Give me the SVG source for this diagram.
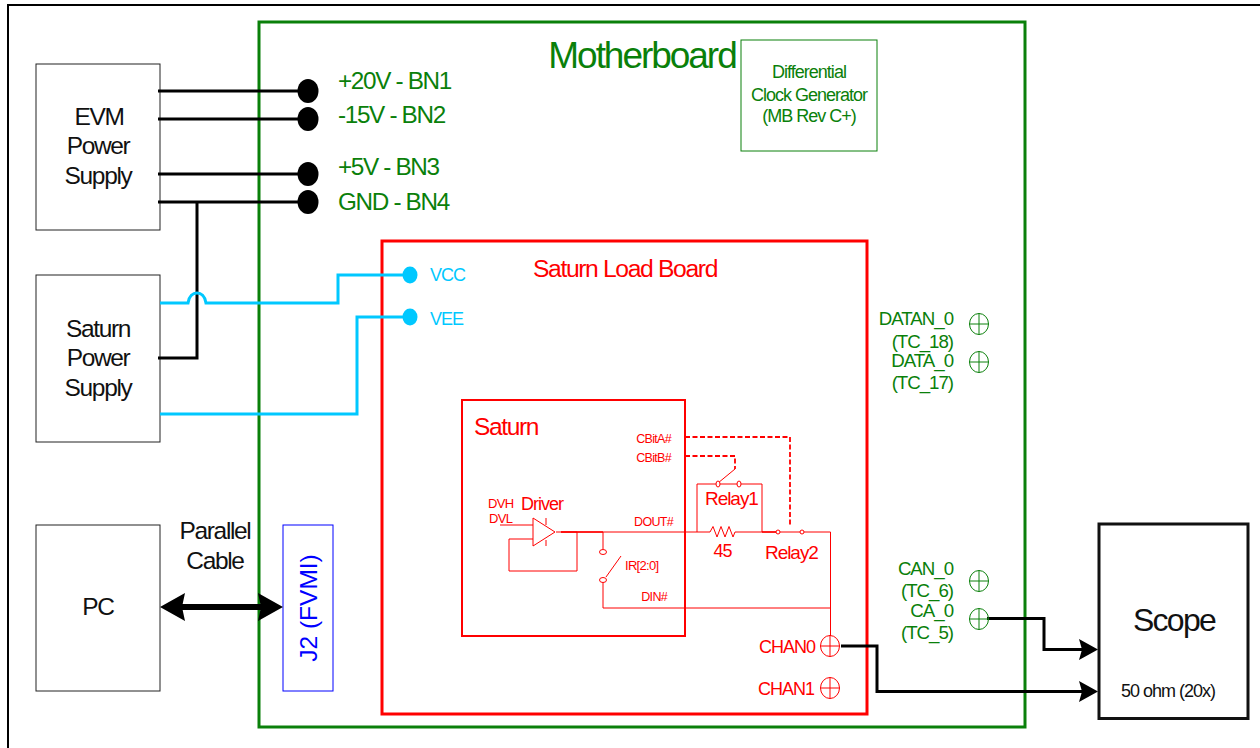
<svg xmlns="http://www.w3.org/2000/svg" width="1260" height="748" viewBox="0 0 1260 748">
<style>
text{font-family:"Liberation Sans",Arial,sans-serif;letter-spacing:-.055em}
.k{fill:#111}.g{fill:#0a800a}.r{fill:#f00}.c{fill:#00c8ff}
.m{text-anchor:middle}.e{text-anchor:end}
.box{fill:#fff;stroke:#222;stroke-width:1}
.wk{fill:none;stroke:#000;stroke-width:3}
.wc{fill:none;stroke:#00c8ff;stroke-width:3}
.wr{fill:none;stroke:#f00;stroke-width:1}
.wd{fill:none;stroke:#f00;stroke-width:1.800;stroke-dasharray:5 2.500}
.tg{fill:none;stroke:#0a800a;stroke-width:1}
.tr{fill:none;stroke:#f00;stroke-width:1}
</style>
<defs>
<marker id="ah" markerUnits="userSpaceOnUse" markerWidth="20" markerHeight="22" refX="3" refY="11" orient="auto"><path d="M0 0.500L19 11L0 21.500L3 11Z" fill="#000"/></marker>
<marker id="ab" markerUnits="userSpaceOnUse" markerWidth="26" markerHeight="30" refX="3" refY="14.500" orient="auto-start-reverse"><path d="M0 0.500L25 14.500L0 28.500L3 14.500Z" fill="#000"/></marker>
</defs>
<rect width="1260" height="748" fill="#fff"/>
<path d="M8 748V5H1260" fill="none" stroke="#000" stroke-width="2"/>
<g id="motherboard">
<rect x="259" y="22" width="766" height="705" fill="none" stroke="#0a800a" stroke-width="3"/>
<text x="642" y="68" class="g m" font-size="37">Motherboard</text>
</g>
<g id="clock-generator">
<rect x="741" y="40" width="136" height="111" fill="#fff" stroke="#0a800a" stroke-width="1"/>
<text x="809" y="78" class="g m" font-size="18">Differential</text>
<text x="809" y="101" class="g m" font-size="18">Clock Generator</text>
<text x="809" y="122" class="g m" font-size="18">(MB Rev C+)</text>
</g>
<g id="load-board">
<rect x="382" y="241" width="485" height="473" fill="none" stroke="#f00" stroke-width="3"/>
<text x="625" y="277" class="r m" font-size="24.700">Saturn Load Board</text>
</g>
<g id="saturn">
<rect x="462" y="400" width="223" height="236" fill="none" stroke="#f00" stroke-width="2"/>
<text x="474" y="435" class="r" font-size="24.500">Saturn</text>
<text x="671" y="443" class="r e" font-size="12.500">CBitA#</text>
<text x="671" y="462" class="r e" font-size="12.500">CBitB#</text>
<text x="673" y="526" class="r e" font-size="12.500">DOUT#</text>
<text x="667" y="601" class="r e" font-size="12.500">DIN#</text>
<text x="488" y="508" class="r" font-size="13">DVH</text>
<text x="489" y="523" class="r" font-size="13">DVL</text>
<text x="521" y="510" class="r" font-size="18">Driver</text>
<text x="625" y="570" class="r" font-size="13">IR[2:0]</text>
<text x="705" y="505" class="r" font-size="19">Relay1</text>
<text x="722.500" y="557" class="r m" font-size="18">45</text>
<text x="765" y="559" class="r" font-size="19">Relay2</text>
</g>
<g id="evm-power-supply">
<rect class="box" x="36" y="64" width="124" height="166"/>
<text x="99" y="125" class="k m" font-size="24.500">EVM</text>
<text x="98" y="154" class="k m" font-size="24.500">Power</text>
<text x="98" y="184" class="k m" font-size="24.500">Supply</text>
</g>
<g id="saturn-power-supply">
<rect class="box" x="36" y="275" width="124" height="167"/>
<text x="98" y="337" class="k m" font-size="24.500">Saturn</text>
<text x="98" y="366" class="k m" font-size="24.500">Power</text>
<text x="98" y="396" class="k m" font-size="24.500">Supply</text>
</g>
<g id="pc">
<rect class="box" x="36" y="525" width="124" height="166"/>
<text x="98" y="615" class="k m" font-size="24.500">PC</text>
</g>
<g id="j2">
<rect x="283" y="525" width="50" height="166" fill="#fff" stroke="#00f" stroke-width="1"/>
<text transform="translate(317 608) rotate(-90)" fill="#00f" class="m" font-size="24.500" style="letter-spacing:0">J2 (FVMI)</text>
</g>
<g id="scope">
<rect x="1099" y="524" width="149" height="194.500" fill="#fff" stroke="#111" stroke-width="3"/>
<text x="1174" y="631" class="k m" font-size="32">Scope</text>
<text x="1168" y="697" class="k m" font-size="18">50 ohm (20x)</text>
</g>
<g id="cable-label">
<text x="215" y="539" class="k m" font-size="24.500">Parallel</text>
<text x="215" y="569" class="k m" font-size="24.500">Cable</text>
</g>
<g id="connectors">
<path class="wk" d="M158 91H308M158 119H308M158 174H308M158 202H308"/>
<path class="wk" d="M197 202V358H158"/>
<path class="wc" d="M160 303H188C189 296 193 293 197 293C201 293 205 296 206 303H338V275H410"/>
<path class="wc" d="M160 414H357V317H410"/>
<path class="wk" style="stroke-width:6" d="M182 607H261" marker-start="url(#ab)" marker-end="url(#ab)"/>
<path class="wk" d="M841 646H877V691.500H1082" marker-end="url(#ah)"/>
<path class="wk" d="M987 618.500H1044V649.500H1082" marker-end="url(#ah)"/>
<path class="wd" d="M685 437H790V527"/>
<path class="wd" d="M685 456H735V469"/>
<path class="wr" d="M735 469L718 483M697 532V484H762V532"/>
<path class="wr" d="M556 532H710L713 526.500L717 537L721 526.500L725 537L729 526.500L733 537L735 532H778M778 532H830.500V636"/>
<path class="wr" d="M500 525H533M533 518V546L555 532ZM546 518V525M546 540V546"/>
<path class="wr" d="M561 532H577V571H509V539H533"/>
<path class="wr" style="stroke-width:1.500" d="M561 532H603M762 532H778"/>
<path class="wr" d="M603 532V549M603 580V608H830.500"/>
<path class="wr" d="M621 556L606 577"/>
<g fill="#fff" stroke="#f00" stroke-width="1">
<ellipse cx="603" cy="552" rx="3.500" ry="2.500"/><ellipse cx="603" cy="580" rx="3.500" ry="2.500"/>
<ellipse cx="718" cy="484" rx="2" ry="3"/><ellipse cx="739" cy="484" rx="2" ry="3"/>
<circle cx="778" cy="532" r="2"/><circle cx="802" cy="532" r="2"/>
</g>
</g>
<g id="terminals">
<ellipse cx="308" cy="91" rx="10.500" ry="12"/><ellipse cx="308" cy="119" rx="10.500" ry="12"/><ellipse cx="308" cy="174" rx="10.500" ry="12"/><ellipse cx="308" cy="202" rx="10.500" ry="12"/>
<ellipse cx="410" cy="275" rx="7.500" ry="8.500" fill="#00c8ff"/><ellipse cx="410" cy="317" rx="7.500" ry="8.500" fill="#00c8ff"/>
<g class="tg"><ellipse cx="979" cy="324" rx="9.500" ry="10.500"/><path d="M969.500 324H988.500M979 313.500V334.500"/><ellipse cx="979" cy="362" rx="9.500" ry="10.500"/><path d="M969.500 362H988.500M979 351.500V372.500"/><ellipse cx="979" cy="581" rx="9.500" ry="10.500"/><path d="M969.500 581H988.500M979 570.500V591.500"/><ellipse cx="979" cy="619" rx="9.500" ry="10.500"/><path d="M969.500 619H988.500M979 608.500V629.500"/></g>
<g class="tr"><ellipse cx="830" cy="646" rx="9.500" ry="10.500"/><path d="M820.500 646H839.500M830 635.500V656.500"/><ellipse cx="830" cy="688" rx="9.500" ry="10.500"/><path d="M820.500 688H839.500M830 677.500V698.500"/></g>
</g>
<g id="labels">
<text x="338" y="89" class="g" font-size="24.300">+20V - BN1</text>
<text x="338" y="123" class="g" font-size="24.300">-15V - BN2</text>
<text x="338" y="175" class="g" font-size="24.300">+5V - BN3</text>
<text x="338" y="210" class="g" font-size="24.300">GND - BN4</text>
<text x="430" y="281" class="c" font-size="18">VCC</text>
<text x="430" y="325" class="c" font-size="18">VEE</text>
<text x="953" y="325" class="g e" font-size="18.700">DATAN_0</text>
<text x="953" y="348" class="g e" font-size="18.700">(TC_18)</text>
<text x="953" y="367" class="g e" font-size="18.700">DATA_0</text>
<text x="953" y="389" class="g e" font-size="18.700">(TC_17)</text>
<text x="953" y="575" class="g e" font-size="18.700">CAN_0</text>
<text x="953" y="597" class="g e" font-size="18.700">(TC_6)</text>
<text x="953" y="617" class="g e" font-size="18.700">CA_0</text>
<text x="953" y="639" class="g e" font-size="18.700">(TC_5)</text>
<text x="815" y="653" class="r e" font-size="18">CHAN0</text>
<text x="814" y="695" class="r e" font-size="18">CHAN1</text>
</g>
</svg>
